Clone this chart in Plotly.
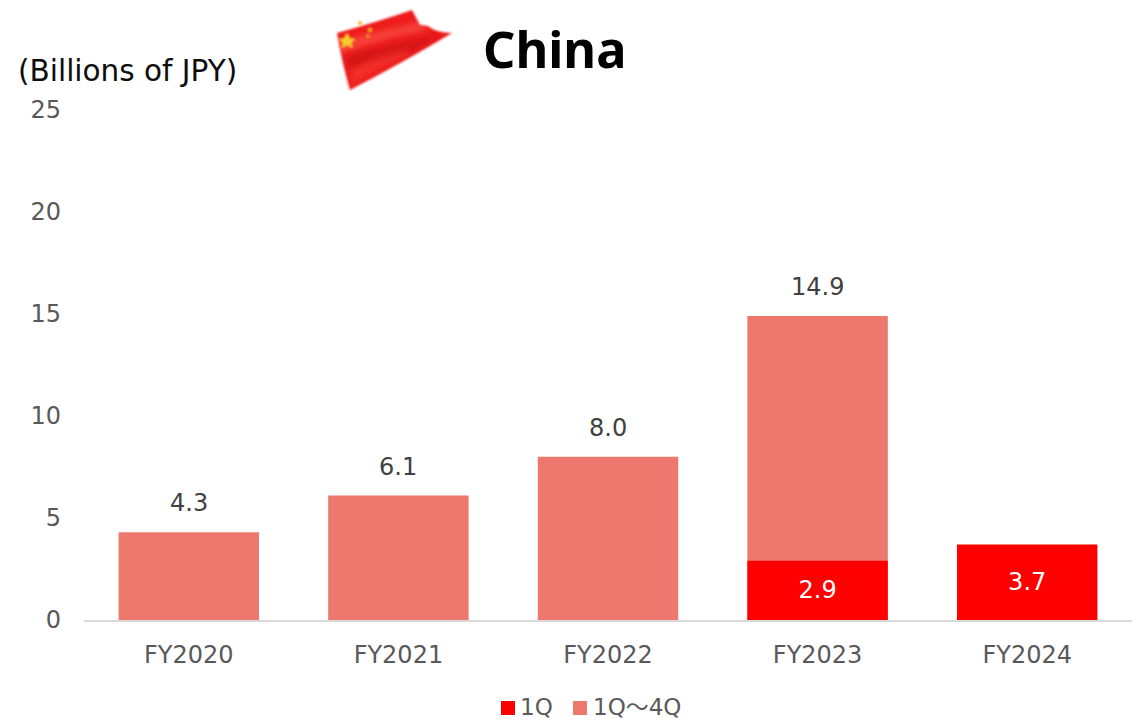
import base64
import plotly.graph_objects as go

# Revenue in China, billions of JPY
fiscal_years = ["FY2020", "FY2021", "FY2022", "FY2023", "FY2024"]
first_quarter = [None, None, None, 2.9, 3.7]
full_year = [4.3, 6.1, 8.0, 14.9, None]
y_ticks = [0, 5, 10, 15, 20, 25]
legend_labels = ["1Q", "1Q～4Q"]

FONT = "DejaVu Sans, Noto Sans CJK JP, sans-serif"
GREY = "#595959"
RED = "#ff0000"
SALMON = "#ee786d"

# Plot rectangle in pixels, used to place the decorations around it
LEFT, RIGHT, TOP, BOTTOM = 84, 1132, 110, 620


def px(x):
    return (x - LEFT) / (RIGHT - LEFT)


def py(y):
    return (BOTTOM - y) / (BOTTOM - TOP)


# Waving flag emblem, drawn as a small self-contained SVG
flag_svg = """<svg xmlns="http://www.w3.org/2000/svg" width="130" height="90" viewBox="0 0 130 90">
<defs>
<filter id="b" x="-5%" y="-5%" width="110%" height="110%"><feGaussianBlur stdDeviation="1.100"/></filter>
<filter id="s" x="-20%" y="-20%" width="140%" height="140%"><feGaussianBlur stdDeviation="3"/></filter>
<clipPath id="c"><path d="M5 25 Q45 14 80 2 L88 17 L96 18 Q104 25 120 25 Q70 55 18 82 Q10 55 5 25Z"/></clipPath>
</defs>
<g filter="url(#b)">
<path d="M5 25 Q45 14 80 2 L88 17 L96 18 Q104 25 120 25 Q70 55 18 82 Q10 55 5 25Z" fill="#ee1c1c"/>
<g clip-path="url(#c)">
<path d="M5 34 Q50 22 88 14 L96 22 Q50 30 8 46Z" fill="#f7433a" filter="url(#s)"/>
<path d="M14 48 Q60 36 110 26 L80 44 Q45 50 18 66Z" fill="#d41216" filter="url(#s)"/>
<path d="M18 62 Q50 48 80 42 L70 50 Q40 62 20 78Z" fill="#f2302a" filter="url(#s)"/>
</g>
<path d="M15 25 l2.800 5.500 5.500 .5 -4.300 3.800 1.600 5.500 -5.600-3.200 -5.600 3.200 1.600-5.500 -4.300-3.800 5.500-.5Z" fill="#f6cf2c"/>
<circle cx="28" cy="15" r="2" fill="#f3b02a"/>
<circle cx="38" cy="22" r="2" fill="#f3a62a"/>
<circle cx="36" cy="28" r="1.800" fill="#f0902a"/>
</g></svg>"""
flag_uri = "data:image/svg+xml;base64," + base64.b64encode(flag_svg.encode()).decode()

fig = go.Figure()

fig.add_bar(
    name=legend_labels[1],
    x=fiscal_years,
    y=full_year,
    marker=dict(color=SALMON, line_width=0),
    showlegend=False,
)
fig.add_bar(
    name=legend_labels[0],
    x=fiscal_years,
    y=first_quarter,
    marker=dict(color=RED, line_width=0),
    text=[None if v is None else f"{v:.1f}" for v in first_quarter],
    textposition="inside",
    insidetextanchor="middle",
    textangle=0,
    textfont=dict(family=FONT, size=24, color="white"),
    showlegend=False,
)

# Totals sit a fixed distance above their bars
annotations = [
    dict(
        x=fy,
        y=v,
        yshift=29,
        text=f"{v:.1f}",
        showarrow=False,
        font=dict(family=FONT, size=24, color="#404040"),
    )
    for fy, v in zip(fiscal_years, full_year)
    if v is not None
]

annotations += [
    dict(
        xref="paper", yref="paper", x=px(16), y=py(71),
        xanchor="left", yanchor="middle",
        text="(Billions of JPY)", showarrow=False,
        font=dict(family=FONT, size=29.5, color="#0d0d0d"),
    ),
    dict(
        xref="paper", yref="paper", x=px(481), y=py(49),
        xanchor="left", yanchor="middle",
        text="<b>China</b>", showarrow=False,
        font=dict(family="Noto Sans, sans-serif", size=50.5, color="black"),
    ),
]

# Legend row under the axis: swatch followed by its label
legend_rows = [(501, 520, RED, legend_labels[0]), (573, 593, SALMON, legend_labels[1])]
shapes = []
for swatch_x, text_x, color, label in legend_rows:
    shapes.append(
        dict(
            type="rect", xref="paper", yref="paper",
            x0=px(swatch_x), x1=px(swatch_x + 14), y0=py(715), y1=py(701),
            fillcolor=color, line_width=0,
        )
    )
    annotations.append(
        dict(
            xref="paper", yref="paper", x=px(text_x - 1), y=py(707),
            xanchor="left", yanchor="middle",
            height=24, borderpad=0,
            text=label, showarrow=False,
            font=dict(family=FONT, size=23, color=GREY),
        )
    )

fig.update_layout(
    width=1140,
    height=721,
    autosize=False,
    margin=dict(l=LEFT, r=1140 - RIGHT, t=TOP, b=721 - BOTTOM),
    paper_bgcolor="white",
    plot_bgcolor="white",
    barmode="overlay",
    bargap=0.33,
    showlegend=False,
    font=dict(family=FONT, size=24, color=GREY),
    annotations=annotations,
    shapes=shapes,
    images=[
        dict(
            source=flag_uri,
            xref="paper", yref="paper",
            x=px(332), y=py(8),
            sizex=130 / (RIGHT - LEFT), sizey=90 / (BOTTOM - TOP),
            xanchor="left", yanchor="top",
            sizing="stretch",
            layer="above",
        )
    ],
    xaxis=dict(
        tickfont=dict(family=FONT, size=24, color=GREY),
        showline=True,
        linecolor="#d9d9d9",
        linewidth=2,
        showgrid=False,
        ticks="",
        ticklabelstandoff=12,
    ),
    yaxis=dict(
        range=[0, 25],
        tickvals=y_ticks,
        tickfont=dict(family=FONT, size=24, color=GREY),
        showgrid=False,
        zeroline=False,
        showline=False,
        ticks="",
        ticklabelstandoff=22,
    ),
)

fig.write_html("out.html")
